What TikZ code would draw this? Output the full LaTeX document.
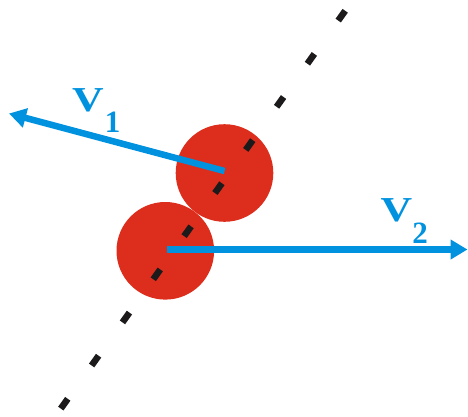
\documentclass[tikz,border=0pt]{standalone}
\usepackage{fontspec}
\usetikzlibrary{arrows.meta}
\newfontfamily\vfont[FakeStretch=1.25]{Liberation Serif}
\newfontfamily\subfont{Liberation Serif}
\definecolor{vblue}{RGB}{0,146,223}
\definecolor{ballred}{RGB}{221,45,28}
\definecolor{dashblack}{RGB}{28,26,26}
\begin{document}
\begin{tikzpicture}[x=1pt,y=-1pt,
  ball/.style={circle,fill=ballred,inner sep=0pt,minimum size=97.6pt},
  axisline/.style={draw=dashblack,line width=6.5pt,dash pattern=on 12pt off 41pt},
  vel/.style={draw=vblue,line width=6.5pt,-{Triangle[length=17pt,width=19pt]}},
  lbl/.style={text=vblue,inner sep=0pt,anchor=base west}]
\useasboundingbox (0,0) rectangle (468,416);
\node[ball] (b1) at (224.5,173) {};
\node[ball] (b2) at (165.3,250.8) {};
\coordinate (d1) at (345.2,10.8);
\coordinate (d2) at (60.8,408.6);
\draw[axisline] (d1) -- (d2);
\coordinate (t1) at (9,113.5);
\coordinate (t2) at (467.5,249.5);
\draw[vel] ([yshift=2pt]b1.center) -- (t1);
\draw[vel] ([xshift=1.5pt,yshift=1.3pt]b2.center) -- (t2);
\node[lbl] (l1) at (72,111.5) {\fontsize{35pt}{35pt}\vfont\bfseries V\hspace{1pt}\raisebox{-20.5pt}{\fontsize{31pt}{31pt}\subfont\bfseries 1}};
\node[lbl] (l2) at (380.5,221.5) {\fontsize{35pt}{35pt}\vfont\bfseries V\raisebox{-22pt}{\fontsize{31pt}{31pt}\subfont\bfseries 2}};
\end{tikzpicture}
\end{document}
